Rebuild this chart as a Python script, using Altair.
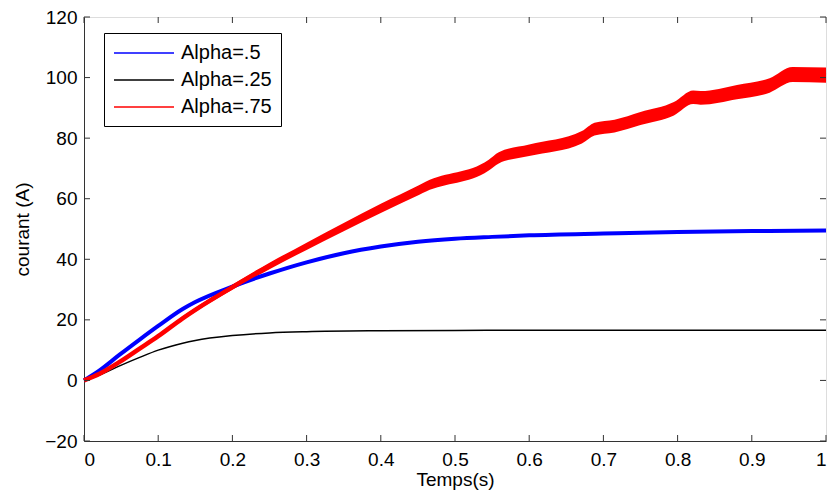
import altair as alt
import pandas as pd

# ---- data ----
t_blue = [0, 0.021, 0.048, 0.075, 0.1, 0.133, 0.15, 0.2, 0.25, 0.3, 0.35, 0.4,
          0.45, 0.5, 0.55, 0.6, 0.7, 0.8, 0.9, 1.0]
blue_vals = [0, 3.3, 8.5, 13.5, 18, 23.6, 25.9, 31, 35.3, 39, 42, 44.2,
             45.8, 46.8, 47.4, 47.9, 48.5, 49, 49.3, 49.5]

t_black = [0, 0.021, 0.048, 0.075, 0.1, 0.133, 0.15, 0.2, 0.25, 0.3, 0.4, 0.5,
           0.6, 0.8, 1.0]
black_vals = [0, 1.8, 4.8, 7.6, 10, 12.3, 13.2, 14.8, 15.7, 16.1, 16.4, 16.5,
              16.6, 16.6, 16.6]

t_red = [0, 0.021, 0.048, 0.075, 0.1, 0.133, 0.15, 0.2, 0.25, 0.3, 0.35, 0.4,
         0.452, 0.461, 0.545, 0.559, 0.6, 0.671, 0.688, 0.715, 0.75, 0.795,
         0.821, 0.831, 0.88, 0.924, 0.955, 1.0]
red_vals = [0, 2.2, 6.1, 10.5, 14.6, 20.5, 23.3, 30.8, 37.8, 44.3, 50.6, 56.8,
            62.9, 64, 71, 73.5, 76, 80.3, 83, 84, 86.5, 89.7,
            93.5, 93.3, 95.2, 97.4, 101, 100.8]
# half ripple amplitude of the red current (A)
red_ripple = [0, 0.1, 0.25, 0.4, 0.5, 0.65, 0.7, 0.9, 1.05, 1.2, 1.35, 1.5,
              1.6, 1.65, 1.8, 1.85, 1.9, 2.05, 2.1, 2.1, 2.15, 2.2,
              2.25, 2.25, 2.35, 2.4, 2.5, 2.5]

series_names = ["Alpha=.5", "Alpha=.25", "Alpha=.75"]
series_colors = ["#0000FF", "#000000", "#FF0000"]
series_widths = [4, 1.5, 4.5]

x_ticks = [0, 0.1, 0.2, 0.3, 0.4, 0.5, 0.6, 0.7, 0.8, 0.9, 1.0]
y_ticks = [-20, 0, 20, 40, 60, 80, 100, 120]

W, H = 742, 424
FONT = "Liberation Sans"
FS = 19

rows = []
for t, v in zip(t_blue, blue_vals):
    rows.append({"t": t, "i": v, "serie": series_names[0]})
for t, v in zip(t_black, black_vals):
    rows.append({"t": t, "i": v, "serie": series_names[1]})
for t, v in zip(t_red, red_vals):
    rows.append({"t": t, "i": v, "serie": series_names[2]})
df = pd.DataFrame(rows)

red_df = pd.DataFrame({"t": t_red, "i": red_vals, "r": red_ripple})
xt = pd.DataFrame({"v": x_ticks})
yt = pd.DataFrame({"v": y_ticks})

xscale = alt.Scale(domain=[0, 1], nice=False, zero=False)
yscale = alt.Scale(domain=[-20, 120], nice=False, zero=False)

xaxis = alt.Axis(values=x_ticks, format="~g", title="Temps(s)", ticks=False,
                 grid=False, labelPadding=9, labelFontSize=FS, titleFontSize=FS,
                 labelFont=FONT, titleFont=FONT, labelColor="#000",
                 titleColor="#000", titleFontWeight="normal",
                 domainColor="#333", titleY=44, titleBaseline="alphabetic")
yaxis = alt.Axis(values=y_ticks, title="courant (A)", ticks=False, grid=False,
                 labelPadding=7, labelFontSize=FS, titleFontSize=FS,
                 labelFont=FONT, titleFont=FONT, labelColor="#000",
                 titleColor="#000", titleFontWeight="normal",
                 domainColor="#333", titleX=-62, titleBaseline="middle")

band = alt.Chart(red_df).transform_calculate(
    lo="datum.i - datum.r", hi="datum.i + datum.r"
).mark_area(color="#FF0000", opacity=1, interpolate="monotone").encode(
    x=alt.X("t:Q", scale=xscale, axis=xaxis),
    y=alt.Y("lo:Q", scale=yscale, axis=yaxis),
    y2="hi:Q",
)

legend = alt.Legend(
    title=None, orient="none", legendX=20, legendY=16,
    symbolType="M-1,0H5", symbolSize=400, symbolStrokeWidth=1.5,
    labelFont=FONT, labelFontSize=20, labelColor="#000",
    labelOffset=46, strokeColor="#000", fillColor="#fff",
    padding=9, rowPadding=6)

line_layers = []
for name, w in zip(series_names, series_widths):
    line_layers.append(
        alt.Chart(df).transform_filter(alt.datum.serie == name)
        .mark_line(interpolate="monotone", strokeWidth=w).encode(
            x=alt.X("t:Q", scale=xscale, axis=xaxis),
            y=alt.Y("i:Q", scale=yscale, axis=yaxis),
            color=alt.Color("serie:N",
                            scale=alt.Scale(domain=series_names,
                                            range=series_colors),
                            sort=series_names, legend=legend),
        ))

tick_color = "#333"
bottom = alt.Chart(xt).mark_rule(color=tick_color).encode(
    x=alt.X("v:Q", scale=xscale), y=alt.value(H), y2=alt.value(H - 6))
top = alt.Chart(xt).mark_rule(color=tick_color).encode(
    x=alt.X("v:Q", scale=xscale), y=alt.value(0), y2=alt.value(6))
left = alt.Chart(yt).mark_rule(color=tick_color).encode(
    y=alt.Y("v:Q", scale=yscale), x=alt.value(0), x2=alt.value(6))
right = alt.Chart(yt).mark_rule(color=tick_color).encode(
    y=alt.Y("v:Q", scale=yscale), x=alt.value(W), x2=alt.value(W - 6))

chart = alt.layer(band, *line_layers, bottom, top, left, right).properties(
    width=W, height=H,
    autosize=alt.AutoSizeParams(type="none"),
    padding={"left": 76, "top": 9, "right": 2, "bottom": 49},
).configure_view(stroke="#333", strokeWidth=1.5).configure(background="white")

chart.save("out.html", embed_options={"renderer": "svg", "actions": False})
